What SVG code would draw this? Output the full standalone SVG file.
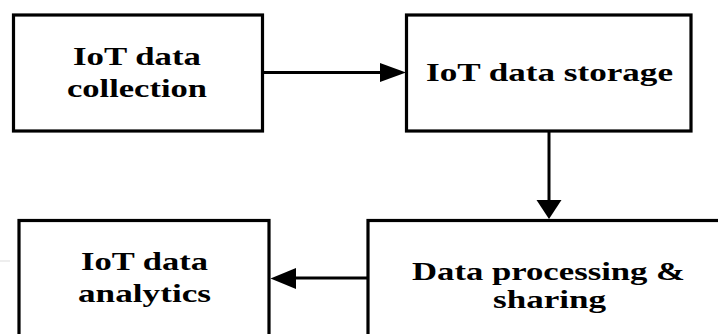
<svg xmlns="http://www.w3.org/2000/svg" width="718" height="334" viewBox="0 0 718 334">
<style>
.box{fill:#fff;stroke:#000;stroke-width:3.2;stroke-linejoin:miter}
.lbl{font-family:"Liberation Serif","Times New Roman",serif;font-weight:bold;font-size:26px;fill:#000;text-anchor:middle}
.ln{stroke:#000;stroke-width:3;fill:none}
.hd{fill:#000;stroke:none}
</style>
<rect width="718" height="334" fill="#fff"/>
<rect x="0" y="260" width="10" height="2" fill="#eeeeee"/>
<g id="node-collection">
<rect class="box" x="13.5" y="15" width="249" height="116"/>
<text class="lbl" x="137" y="65" textLength="128" lengthAdjust="spacingAndGlyphs">IoT data</text>
<text class="lbl" x="137" y="97" textLength="140" lengthAdjust="spacingAndGlyphs">collection</text>
</g>
<g id="node-storage">
<rect class="box" x="406.5" y="15" width="284.5" height="116"/>
<text class="lbl" x="549.5" y="81" textLength="247" lengthAdjust="spacingAndGlyphs">IoT data storage</text>
</g>
<g id="node-processing">
<rect class="box" x="368" y="220.5" width="370" height="130"/>
<text class="lbl" x="548.5" y="280" textLength="273" lengthAdjust="spacingAndGlyphs">Data processing &amp;</text>
<text class="lbl" x="549.5" y="308" textLength="113" lengthAdjust="spacingAndGlyphs">sharing</text>
</g>
<g id="node-analytics">
<rect class="box" x="19" y="220.5" width="250" height="130"/>
<text class="lbl" x="144.5" y="270" textLength="127" lengthAdjust="spacingAndGlyphs">IoT data</text>
<text class="lbl" x="144.5" y="302" textLength="133" lengthAdjust="spacingAndGlyphs">analytics</text>
</g>
<g id="connectors">
<line class="ln" x1="262.5" y1="72.5" x2="382" y2="72.5"/>
<polygon class="hd" points="380,63 380,82 406,72.5"/>
<line class="ln" x1="549" y1="131" x2="549" y2="202"/>
<polygon class="hd" points="536.5,200 561.5,200 549,219"/>
<line class="ln" x1="368" y1="278" x2="294" y2="278"/>
<polygon class="hd" points="296,268 296,289 270.5,278.5"/>
</g>
</svg>
